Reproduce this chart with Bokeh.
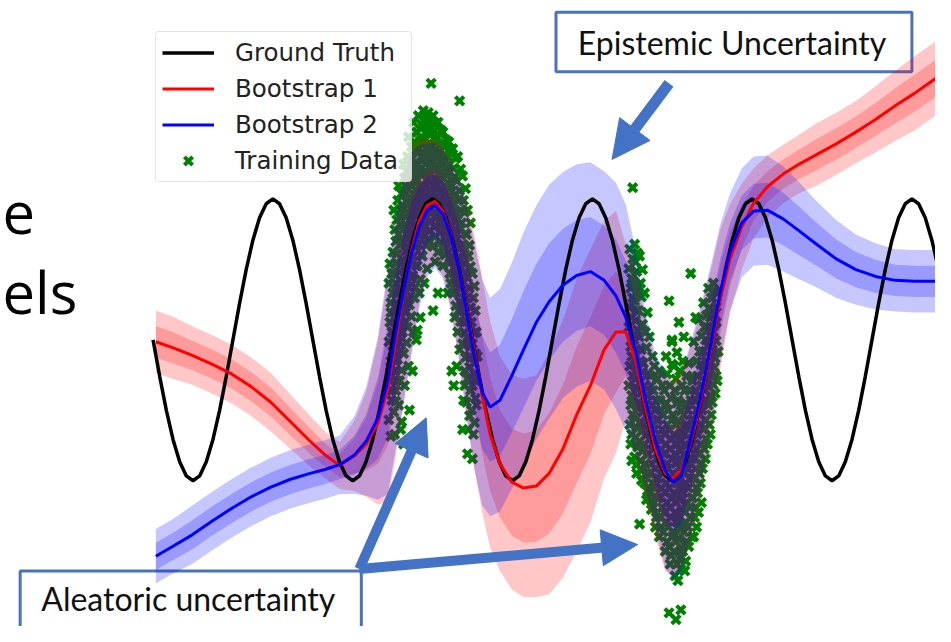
import numpy as np
from bokeh.plotting import figure
from bokeh.models import (Range1d, Legend, LegendItem, Label, BoxAnnotation,
                          Arrow, NormalHead)
from bokeh.embed import file_html
from bokeh.resources import INLINE

# ---------------- data ----------------
# ground truth, sampled every 1/24 of a period
gt_x = np.round(-0.11 + 0.67708 * np.arange(-36, 83), 3)
gt_y = [0, -3.74, -7.23, -10.22, -12.51, -13.96, -14.45, -13.96, -12.51, -10.22, -7.23, -3.74,
        0, 3.74, 7.23, 10.22, 12.51, 13.96, 14.45, 13.96, 12.51, 10.22, 7.23, 3.74,
        0, -3.74, -7.23, -10.22, -12.51, -13.96, -14.45, -13.96, -12.51, -10.22, -7.23, -3.74,
        0, 3.74, 7.23, 10.22, 12.51, 13.96, 14.45, 13.96, 12.51, 10.22, 7.23, 3.74,
        0, -3.74, -7.23, -10.22, -12.51, -13.96, -14.45, -13.96, -12.51, -10.22, -7.23, -3.74,
        0, 3.74, 7.23, 10.22, 12.51, 13.96, 14.45, 13.96, 12.51, 10.22, 7.23, 3.74,
        0, -3.74, -7.23, -10.22, -12.51, -13.96, -14.45, -13.96, -12.51, -10.22, -7.23, -3.74,
        0, 3.74, 7.23, 10.22, 12.51, 13.96, 14.45, 13.96, 12.51, 10.22, 7.23, 3.74,
        0, -3.74, -7.23, -10.22, -12.51, -13.96, -14.45, -13.96, -12.51, -10.22, -7.23, -3.74,
        0, 3.74, 7.23, 10.22, 12.51, 13.96, 14.45, 13.96, 12.51, 10.22, 7.23]

boot_x = [-24.2, -22.5, -20.5, -18.5, -16.5, -14.5, -12.5, -10.5, -8.5, -7.0, -5.5, -4.0, -2.8,
          -1.6, -0.6, 0.2, 1.0, 1.8, 2.6, 3.4, 4.2, 5.0, 5.8, 6.6, 7.4, 8.2, 9.0, 9.8, 10.8, 12.0,
          13.2, 14.5, 15.8, 17.2, 18.6, 20.0, 21.4, 22.6, 23.6, 24.6, 25.6, 26.6, 27.6, 28.4, 29.2,
          30.0, 30.8, 31.6, 32.4, 33.2, 34.2, 35.4, 36.6, 38.0, 39.6, 41.2, 43.0, 45.0, 47.0, 49.0,
          51.0, 53.0, 55.1, 56.0]

boot1_mean = [-0.2, -0.8, -1.6, -2.5, -3.5, -4.8, -6.4, -8.4, -10.4, -11.8, -12.9, -11.9, -10.7,
              -8.5, -5.0, 0.0, 5.0, 9.2, 12.2, 13.8, 14.2, 13.2, 10.8, 7.4, 3.3, -1.2, -5.7, -9.7,
              -12.7, -14.6, -15.2, -15.0, -13.7, -11.2, -7.7, -4.7, -1.0, 0.8, 0.8, -2.2, -7.0,
              -11.2, -13.7, -14.2, -13.4, -11.3, -8.2, -4.4, -0.2, 4.1, 8.3, 11.6, 14.0, 15.7, 17.0,
              18.0, 19.0, 20.1, 21.3, 22.6, 24.0, 25.3, 26.8, 27.4]
boot1_std = [1.6, 1.6, 1.5, 1.5, 1.5, 1.5, 1.5, 1.4, 1.3, 1.2, 1.2, 1.8, 2.7, 4.2, 5.8, 6.0, 5.8,
             5.2, 4.2, 3.4, 3.2, 3.3, 3.8, 4.6, 5.5, 6.0, 6.0, 5.8, 5.5, 5.5, 5.6, 5.7, 6.2, 6.6,
             7.0, 7.0, 6.6, 6.2, 4.5, 4.8, 4.5, 4.5, 5.0, 5.0, 5.0, 5.0, 4.8, 4.5, 4.0, 3.6, 2.8,
             2.2, 1.8, 1.6, 1.5, 1.5, 1.6, 1.6, 1.6, 1.7, 1.8, 1.9, 1.9, 1.9]

boot2_mean = [-22.2, -21.2, -20.0, -18.6, -17.3, -16.1, -15.1, -14.3, -13.7, -13.3, -12.8, -11.8,
              -10.4, -8.0, -4.2, 0.8, 5.1, 8.9, 11.6, 13.3, 13.8, 12.9, 10.7, 7.4, 3.0, -1.7, -5.4,
              -6.9, -6.2, -3.7, -1.0, 1.8, 3.9, 5.6, 6.6, 7.0, 6.1, 4.5, 2.3, -1.2, -6.2, -10.4,
              -13.4, -14.6, -14.0, -11.0, -7.7, -4.0, 0.3, 4.8, 9.0, 12.0, 13.2, 13.3, 12.4, 11.2,
              9.8, 8.3, 7.2, 6.5, 6.1, 6.0, 6.0, 6.0]
boot2_std = [1.4, 1.4, 1.5, 1.5, 1.5, 1.5, 1.5, 1.5, 1.5, 1.5, 1.5, 2.0, 2.8, 4.2, 5.8, 6.0, 5.8,
             5.2, 4.2, 3.4, 3.2, 3.3, 3.8, 4.6, 5.5, 5.8, 5.8, 5.6, 5.7, 5.8, 6.0, 6.0, 6.0, 5.8,
             5.7, 5.6, 5.6, 5.8, 5.8, 5.2, 4.5, 4.5, 5.0, 5.0, 5.0, 5.0, 4.8, 4.5, 4.0, 3.5, 3.0,
             2.8, 2.8, 2.8, 2.7, 2.5, 2.2, 2.0, 1.8, 1.7, 1.6, 1.6, 1.6, 1.6]

# training data, first cluster (around the first peak)
train1_x = [
    -0.4, -0.5, -0.3, -0.4, -0.5, -0.3, -0.4, -0.2, -0.5, -0.3,
    0.0, 0.1, -0.1, 0.0, 0.2, 0.1, -0.1, 0.0, 0.1, 0.2, 0.0, 0.1,
    0.5, 0.4, 0.6, 0.5, 0.3, 0.6, 0.5, 0.4, 0.6, 0.5, 0.4, 0.6, 0.5, 0.7,
    1.0, 1.1, 0.9, 1.0, 1.2, 1.0, 0.9, 1.1, 1.0, 1.2, 0.9, 1.0, 1.1, 0.8, 1.0,
    1.5, 1.4, 1.6, 1.5, 1.4, 1.6, 1.5, 1.7, 1.4, 1.5, 1.6, 1.4, 1.5, 1.6,
    2.0, 2.1, 1.9, 2.0, 2.2, 2.0, 1.9, 2.1, 2.0, 1.9, 2.1, 2.0, 1.9,
    2.5, 2.4, 2.6, 2.5, 2.4, 2.6, 2.5, 2.7, 2.5, 2.4, 2.6, 2.4,
    3.0, 3.1, 2.9, 3.0, 3.2, 3.0, 2.9, 3.1, 3.0, 2.9, 3.1,
    3.5, 3.4, 3.6, 3.5, 3.4, 3.6, 3.5, 3.7, 3.5, 3.4,
    3.8, 4.0, 4.1, 3.9, 4.0, 4.2, 4.0, 3.9, 4.1, 4.0, 4.2,
    4.5, 4.4, 4.6, 4.5, 4.4, 4.6, 4.5, 4.7, 4.5,
    5.0, 5.1, 4.9, 5.0, 5.2, 5.0, 4.9, 5.1, 5.0,
    5.6, 5.5, 5.4, 5.6, 5.5, 5.4, 5.6, 5.5, 5.7, 5.5,
    6.0, 6.1, 5.9, 6.0, 6.2, 6.0, 5.9, 6.1, 6.0, 6.2,
    6.7, 6.5, 6.4, 6.6, 6.5, 6.4, 6.6, 6.5, 6.4, 6.6, 6.5, 6.4,
    7.0, 7.1, 6.9, 7.0, 7.2, 7.0, 6.9, 7.1, 7.0, 7.2, 7.1, 7.0,
    7.5, 7.4, 7.6, 7.5, 7.4, 7.6, 7.5, 7.7, 7.5, 7.4, 7.6, 7.5,
    8.0, 8.1, 7.9, 8.0, 8.2, 8.0, 7.9, 8.1, 8.0,
    8.4, 8.5, 8.3, 8.4,
    4.0, 4.5, 2.7, 2.3, 5.9, 6.1,
    -0.2, -0.1, -0.3, -0.2, -0.1, -0.3, -0.2,
    0.3, 0.2, 0.3, 0.2, 0.3, 0.2, 0.3, 0.2, 0.3, 0.2,
    0.8, 0.7, 0.8, 0.7, 0.8, 0.7, 0.8, 0.7, 0.8, 0.7, 0.8,
    1.3, 1.2, 1.3, 1.2, 1.3, 1.2, 1.3, 1.2, 1.3, 1.2, 1.3,
    1.8, 1.7, 1.8, 1.7, 1.8, 1.7, 1.8, 1.7, 1.8, 1.7, 1.8,
    2.3, 2.2, 2.3, 2.2, 2.3, 2.2, 2.3, 2.2, 2.3, 2.2,
    2.8, 2.7, 2.8, 2.7, 2.8, 2.7, 2.8, 2.7, 2.8, 2.7,
    3.3, 3.2, 3.3, 3.2, 3.3, 3.2, 3.3, 3.2, 3.3,
    3.8, 3.7, 3.8, 3.7, 3.8, 3.7, 3.8, 3.7,
    4.3, 4.2, 4.3, 4.2, 4.3, 4.2, 4.3, 4.2,
    4.8, 4.7, 4.8, 4.7, 4.8, 4.7, 4.8, 4.7,
    5.3, 5.2, 5.3, 5.2, 5.3, 5.2, 5.3, 5.2,
    5.8, 5.7, 5.8, 5.7, 5.8, 5.7, 5.8, 5.7, 5.8,
    6.3, 6.2, 6.3, 6.2, 6.3, 6.2, 6.3, 6.2, 6.3,
    6.8, 6.7, 6.8, 6.7, 6.8, 6.7, 6.8, 6.7, 6.8, 6.7,
    7.3, 7.2, 7.3, 7.2, 7.3, 7.2, 7.3, 7.2, 7.3, 7.2,
    7.8, 7.7, 7.8, 7.7, 7.8, 7.7, 7.8, 7.7, 7.8, 7.7,
    8.2, 8.3, 8.2, 8.3, 8.2, 8.3, 8.2,
]
train1_y = [
    7.8, 5.8, 3.8, 1.8, -0.2, -2.2, -4.2, -6.2, -8.2, -9.9,
    13.3, 11.3, 9.0, 6.8, 4.8, 2.8, 0.8, -1.2, -3.2, -5.2, -7.4, -9.7,
    15.8, 14.3, 12.6, 10.8, 8.8, 7.0, 5.2, 3.4, 1.6, -0.2, -2.0, -4.2, -6.7, -9.2,
    18.0, 16.6, 15.0, 13.4, 11.8, 10.0, 8.2, 6.4, 4.6, 2.8, 0.8, -1.4, -4.7, -8.4, -10.7,
    20.8, 18.8, 17.0, 15.4, 13.8, 12.2, 10.6, 9.0, 7.2, 5.4, 3.6, 1.3, -2.7, -7.2,
    22.3, 20.3, 18.6, 17.0, 15.4, 13.8, 12.2, 10.4, 8.6, 6.6, 4.3, 0.8, -3.2,
    23.0, 21.3, 19.6, 18.0, 16.4, 14.8, 13.2, 11.6, 9.8, 7.6, 4.8, 1.0,
    23.5, 22.0, 20.4, 18.8, 17.2, 15.6, 14.0, 12.4, 10.8, 8.6, 5.8,
    23.3, 21.8, 20.2, 18.6, 17.0, 15.4, 13.8, 12.2, 10.3, 7.3,
    26.3, 23.0, 21.4, 19.8, 18.2, 16.6, 15.0, 13.4, 11.6, 9.6, 8.0,
    22.3, 20.8, 19.2, 17.6, 16.0, 14.4, 12.8, 11.0, 9.0,
    21.3, 19.8, 18.2, 16.6, 15.0, 13.4, 11.8, 9.8, 7.6,
    20.3, 18.8, 17.2, 15.6, 14.0, 12.4, 10.8, 9.0, 6.8, 4.8,
    19.6, 17.6, 15.8, 14.0, 12.2, 10.4, 8.6, 6.8, 4.8, 2.3,
    24.5, 18.8, 16.3, 14.3, 12.3, 10.3, 8.5, 6.7, 4.9, 3.0, 0.8, -2.7,
    16.8, 14.3, 12.0, 9.8, 7.8, 5.8, 3.8, 1.8, -0.4, -3.2, -6.2, -9.2,
    13.3, 10.8, 8.6, 6.4, 4.3, 2.3, 0.3, -1.7, -4.0, -6.4, -9.2, -11.7,
    6.8, 4.3, 1.8, -0.4, -2.4, -4.7, -7.2, -9.7, -12.2,
    0.8, -1.7, -4.2, -6.7,
    3.0, 4.8, 2.3, 0.0, -3.2, -4.7,
    6.8, 4.8, 2.8, 0.8, -1.2, -3.2, -5.2,
    12.3, 10.1, 7.9, 5.8, 3.8, 1.8, -0.2, -2.2, -4.2, -6.3,
    15.0, 13.4, 11.7, 9.8, 7.9, 6.1, 4.3, 2.5, 0.7, -1.1, -3.1,
    17.3, 15.8, 14.2, 12.6, 10.9, 9.1, 7.3, 5.5, 3.7, 1.8, -0.3,
    19.8, 17.9, 16.2, 14.6, 13.0, 11.4, 9.8, 8.1, 6.3, 4.5, 2.4,
    21.3, 19.4, 17.8, 16.2, 14.6, 13.0, 11.3, 9.5, 7.6, 5.4,
    22.1, 20.4, 18.8, 17.2, 15.6, 14.0, 12.4, 10.7, 8.7, 6.2,
    22.7, 21.2, 19.6, 18.0, 16.4, 14.8, 13.2, 11.6, 9.7,
    22.5, 21.0, 19.4, 17.8, 16.2, 14.6, 13.0, 11.2,
    22.2, 20.6, 19.0, 17.4, 15.8, 14.2, 12.5, 10.6,
    21.5, 20.0, 18.4, 16.8, 15.2, 13.6, 11.9, 10.0,
    20.5, 19.0, 17.4, 15.8, 14.2, 12.6, 10.8, 8.7,
    19.5, 18.0, 16.4, 14.8, 13.2, 11.6, 9.9, 7.9, 5.8,
    18.6, 16.7, 14.9, 13.1, 11.3, 9.5, 7.7, 5.8, 3.5,
    17.5, 15.3, 13.3, 11.3, 9.4, 7.6, 5.8, 3.9, 1.9, -1.0,
    15.5, 13.1, 10.9, 8.8, 6.8, 4.8, 2.8, 0.7, -1.8, -4.7,
    12.0, 9.7, 7.5, 5.3, 3.3, 1.3, -0.7, -2.8, -5.2, -7.8,
    5.5, 3.0, 0.7, -1.4, -3.5, -6.0, -8.5,
]

# training data, second cluster (around the trough)
train2_x = [
    24.0, 23.9, 24.1, 24.0, 23.9, 24.1, 24.0, 23.9, 24.1, 24.0, 24.1, 24.2,
    24.3, 24.5, 24.6, 24.4, 24.5, 24.6, 24.4, 24.5, 24.6, 24.4, 24.5, 24.6, 24.5, 24.7,
    25.0, 25.1, 24.9, 25.0, 25.1, 25.0, 24.9, 25.1, 25.0, 25.1, 25.2, 25.0,
    25.5, 25.6, 25.4, 25.5, 25.6, 25.4, 25.5, 25.6, 25.5, 25.7,
    26.0, 26.1, 25.9, 26.0, 26.1, 25.9, 26.0, 26.1, 26.2,
    26.5, 26.4, 26.6, 26.5, 26.4, 26.6, 26.5, 26.4, 26.6,
    27.0, 27.1, 26.9, 27.0, 27.1, 26.9, 27.0, 27.1, 27.0,
    27.7, 27.5, 27.4, 27.6, 27.5, 27.4, 27.6, 27.5, 27.4, 27.6,
    28.0, 28.3, 28.1, 27.9, 28.0, 28.1, 27.9, 28.0, 28.1, 27.9, 28.0, 28.1, 28.0,
    28.3, 28.5, 28.6, 28.4, 28.5, 28.6, 28.4, 28.5, 28.6, 28.4, 28.5, 28.6, 28.7,
    29.0, 29.1, 28.9, 29.0, 29.1, 28.9, 29.0, 29.1, 28.9, 29.0, 29.1, 28.9, 29.2,
    29.5, 29.4, 29.6, 29.5, 29.4, 29.6, 29.5, 29.4, 29.6, 29.5, 29.4, 29.6,
    30.2, 30.0, 30.1, 29.9, 30.0, 30.1, 29.9, 30.0, 30.1, 29.9, 30.0,
    30.7, 30.5, 30.4, 30.6, 30.5, 30.4, 30.6, 30.5, 30.4, 30.6, 30.5,
    31.0, 31.1, 30.9, 31.0, 31.1, 30.9, 31.0, 31.1, 30.9, 31.0,
    31.5, 31.6, 31.4, 31.5, 31.6, 31.4, 31.5, 31.6, 31.4,
    32.0, 32.1, 31.9, 32.0, 32.1, 31.9, 32.0, 32.1, 31.9,
    32.5, 32.4, 32.6, 32.5, 32.4, 32.6, 32.5, 32.4,
    32.9, 32.8, 33.0, 32.9,
    24.3, 24.2, 24.3, 24.2, 24.3, 24.2, 24.3, 24.2, 24.3, 24.2,
    24.8, 24.7, 24.8, 24.7, 24.8, 24.7, 24.8, 24.7, 24.8, 24.7, 24.8, 24.7,
    25.3, 25.2, 25.3, 25.2, 25.3, 25.2, 25.3, 25.2, 25.3, 25.2,
    25.8, 25.7, 25.8, 25.7, 25.8, 25.7, 25.8, 25.7, 25.8,
    26.3, 26.2, 26.3, 26.2, 26.3, 26.2, 26.3, 26.2,
    26.8, 26.7, 26.8, 26.7, 26.8, 26.7, 26.8, 26.7,
    27.3, 27.2, 27.3, 27.2, 27.3, 27.2, 27.3, 27.2,
    27.8, 27.7, 27.8, 27.7, 27.8, 27.7, 27.8, 27.7, 27.8,
    28.3, 28.2, 28.3, 28.2, 28.3, 28.2, 28.3, 28.2, 28.3, 28.2,
    28.8, 28.7, 28.8, 28.7, 28.8, 28.7, 28.8, 28.7, 28.8, 28.7, 28.8,
    29.3, 29.2, 29.3, 29.2, 29.3, 29.2, 29.3, 29.2, 29.3, 29.2,
    29.8, 29.7, 29.8, 29.7, 29.8, 29.7, 29.8, 29.7, 29.8, 29.7,
    30.3, 30.2, 30.3, 30.2, 30.3, 30.2, 30.3, 30.2, 30.3,
    30.8, 30.7, 30.8, 30.7, 30.8, 30.7, 30.8, 30.7, 30.8,
    31.3, 31.2, 31.3, 31.2, 31.3, 31.2, 31.3, 31.2, 31.3,
    31.8, 31.7, 31.8, 31.7, 31.8, 31.7, 31.8, 31.7,
    32.3, 32.2, 32.3, 32.2, 32.3, 32.2, 32.3, 32.2,
    32.7, 32.8, 32.7, 32.8, 32.7, 32.8, 32.7,
]
train2_y = [
    9.3, 7.3, 5.3, 3.3, 1.3, -0.7, -2.7, -4.7, -6.7, -8.7, -10.7, -12.4,
    15.6, 9.8, 8.0, 6.0, 4.0, 2.0, 0.0, -2.0, -4.0, -6.0, -8.0, -10.0, -12.0, -13.7,
    8.6, 5.8, 3.0, 0.3, -2.2, -4.4, -6.4, -8.4, -10.4, -12.4, -14.4, -18.9,
    4.8, 0.8, -2.4, -4.7, -6.7, -8.7, -10.7, -12.7, -14.7, -16.4,
    0.3, -3.7, -5.7, -7.7, -9.7, -11.7, -13.7, -15.7, -17.4,
    -2.7, -5.2, -7.2, -9.2, -11.2, -13.2, -15.2, -17.2, -19.2,
    -3.2, -6.2, -8.2, -10.2, -12.2, -14.2, -16.2, -18.2, -20.2,
    -1.7, -5.2, -7.7, -9.7, -11.7, -13.7, -15.7, -17.7, -19.7, -21.7,
    4.0, -0.2, -4.7, -7.2, -9.2, -11.2, -13.2, -15.2, -17.2, -19.2, -21.2, -23.0, -28.0,
    0.0, -2.7, -5.2, -7.7, -9.7, -11.7, -13.7, -15.7, -17.7, -19.7, -21.7, -24.2, -28.7,
    1.8, -3.2, -6.2, -8.4, -10.4, -12.4, -14.4, -16.4, -18.4, -20.4, -22.4, -24.7, -27.7,
    0.3, -2.2, -5.2, -7.7, -9.7, -11.7, -13.7, -15.7, -17.7, -19.7, -21.7, -23.7,
    6.8, -2.4, -5.2, -7.2, -9.2, -11.2, -13.2, -15.2, -17.2, -19.2, -21.2,
    2.3, -0.2, -4.2, -6.2, -8.2, -10.2, -12.2, -14.2, -16.2, -18.2, -20.2,
    2.1, -1.2, -3.7, -5.7, -7.7, -9.7, -11.7, -13.7, -15.7, -17.7,
    3.8, 1.3, -1.2, -3.2, -5.2, -7.2, -9.2, -11.2, -13.2,
    5.3, 3.3, 1.3, -0.7, -2.7, -4.7, -6.7, -8.7, -10.7,
    5.8, 4.3, 2.6, 0.8, -1.0, -2.8, -4.6, -6.4,
    4.8, 1.8, -1.2, -4.2,
    8.3, 6.3, 4.3, 2.3, 0.3, -1.7, -3.7, -5.7, -7.7, -9.7,
    8.9, 7.0, 5.0, 3.0, 1.0, -1.0, -3.0, -5.0, -7.0, -9.0, -11.0, -12.8,
    7.2, 4.4, 1.6, -1.0, -3.3, -5.4, -7.4, -9.4, -11.4, -13.4,
    2.8, -0.8, -3.5, -5.7, -7.7, -9.7, -11.7, -13.7, -15.5,
    -1.7, -4.7, -6.7, -8.7, -10.7, -12.7, -14.7, -16.5,
    -4.0, -6.2, -8.2, -10.2, -12.2, -14.2, -16.2, -18.2,
    -4.7, -7.2, -9.2, -11.2, -13.2, -15.2, -17.2, -19.2,
    -3.5, -6.5, -8.7, -10.7, -12.7, -14.7, -16.7, -18.7, -20.7,
    -2.5, -6.0, -8.2, -10.2, -12.2, -14.2, -16.2, -18.2, -20.2, -22.1,
    -1.3, -4.0, -6.5, -8.7, -10.7, -12.7, -14.7, -16.7, -18.7, -20.7, -23.0,
    -4.7, -7.3, -9.4, -11.4, -13.4, -15.4, -17.4, -19.4, -21.4, -23.5,
    -3.7, -6.5, -8.7, -10.7, -12.7, -14.7, -16.7, -18.7, -20.7, -22.7,
    -3.8, -6.2, -8.2, -10.2, -12.2, -14.2, -16.2, -18.2, -20.2,
    -2.2, -5.2, -7.2, -9.2, -11.2, -13.2, -15.2, -17.2, -19.2,
    0.4, -2.5, -4.7, -6.7, -8.7, -10.7, -12.7, -14.7, -16.7,
    2.5, 0.0, -2.2, -4.2, -6.2, -8.2, -10.2, -12.2,
    4.3, 2.3, 0.3, -1.7, -3.7, -5.7, -7.7, -9.7,
    5.0, 3.4, 1.7, -0.1, -1.9, -3.7, -5.5,
]

legend_labels = ["Ground Truth", "Bootstrap 1", "Bootstrap 2", "Training Data"]

train_x = train1_x + train2_x
train_y = train1_y + train2_y

# ---------------- figure ----------------
p = figure(width=935, height=626, x_range=Range1d(-40.0, 55.1), y_range=Range1d(-29.4, 34.8),
           toolbar_location=None, output_backend="svg", min_border=0,
           x_axis_type=None, y_axis_type=None, title=None)
p.outline_line_color = None
p.background_fill_color = "white"
p.border_fill_color = "white"

ARROW = "#4472c4"
BOXLINE = "#4a73b8"

# slide boxes (behind the chart)
p.add_layout(BoxAnnotation(left=16.5, right=52.7, bottom=27.5, top=33.6, fill_color="white",
                           fill_alpha=1.0, line_color=BOXLINE, line_alpha=1.0, line_width=3,
                           level="underlay"))
p.add_layout(BoxAnnotation(left=-38.0, right=-3.3, bottom=-33.0, top=-23.7, fill_color="white",
                           fill_alpha=1.0, line_color=BOXLINE, line_alpha=1.0, line_width=3,
                           level="underlay"))

# training data (under the bands)
r_data = p.scatter(train_x, train_y, marker="x", size=12, line_color="green", line_width=4)

bx = np.array(boot_x)
m1, s1 = np.array(boot1_mean), np.array(boot1_std)
m2, s2 = np.array(boot2_mean), np.array(boot2_std)
A = 0.22
p.varea(x=bx, y1=m1 - 2 * s1, y2=m1 + 2 * s1, fill_color="red", fill_alpha=A)
p.varea(x=bx, y1=m1 - s1, y2=m1 + s1, fill_color="red", fill_alpha=A)
p.varea(x=bx, y1=m2 - 2 * s2, y2=m2 + 2 * s2, fill_color="blue", fill_alpha=A)
p.varea(x=bx, y1=m2 - s2, y2=m2 + s2, fill_color="blue", fill_alpha=A)

r_gt = p.line(gt_x, gt_y, line_color="black", line_width=3.5)
r_b1 = p.line(boot_x, boot1_mean, line_color="red", line_width=3)
r_b2 = p.line(boot_x, boot2_mean, line_color="blue", line_width=3)

legend = Legend(items=[LegendItem(label=legend_labels[0], renderers=[r_gt]),
                       LegendItem(label=legend_labels[1], renderers=[r_b1]),
                       LegendItem(label=legend_labels[2], renderers=[r_b2]),
                       LegendItem(label=legend_labels[3], renderers=[r_data])],
                location=(155, 444), orientation="vertical",
                label_text_font="DejaVu Sans", label_text_font_size="24.5px",
                label_text_color="#222222",
                glyph_width=52, glyph_height=29, label_standoff=21, label_width=170,
                spacing=7, padding=6, margin=0,
                border_line_color="#cccccc", border_line_width=1.5,
                background_fill_color="white", background_fill_alpha=0.8)
try:
    legend.border_radius = 4
except Exception:
    pass
p.add_layout(legend)

# arrows
p.add_layout(Arrow(end=NormalHead(size=38, fill_color=ARROW, line_color=ARROW),
                   x_start=28.0, y_start=26.3, x_end=22.2, y_end=18.5,
                   line_color=ARROW, line_width=11))
p.add_layout(Arrow(end=NormalHead(size=36, fill_color=ARROW, line_color=ARROW),
                   x_start=-3.5, y_start=-23.5, x_end=3.3, y_end=-8.0,
                   line_color=ARROW, line_width=10))
p.add_layout(Arrow(end=NormalHead(size=36, fill_color=ARROW, line_color=ARROW),
                   x_start=-3.5, y_start=-23.5, x_end=24.8, y_end=-21.0,
                   line_color=ARROW, line_width=10))

# texts
p.add_layout(Label(x=34.4, y=30.5, text="Epistemic Uncertainty", text_align="center",
                   text_baseline="middle", text_font="Lato", text_font_size="32px",
                   text_color="#111111"))
p.add_layout(Label(x=-20.9, y=-26.5, text="Aleatoric uncertainty", text_align="center",
                   text_baseline="middle", text_font="Lato", text_font_size="32px",
                   text_color="#111111"))
p.add_layout(Label(x=-39.8, y=13.0, text="e", text_align="left", text_baseline="alphabetic",
                   text_font="Open Sans", text_font_size="58px", text_color="#000000"))
p.add_layout(Label(x=-39.8, y=5.0, text="els", text_align="left", text_baseline="alphabetic",
                   text_font="Open Sans", text_font_size="58px", text_color="#000000"))

open("out.html", "w").write(file_html(p, INLINE))
